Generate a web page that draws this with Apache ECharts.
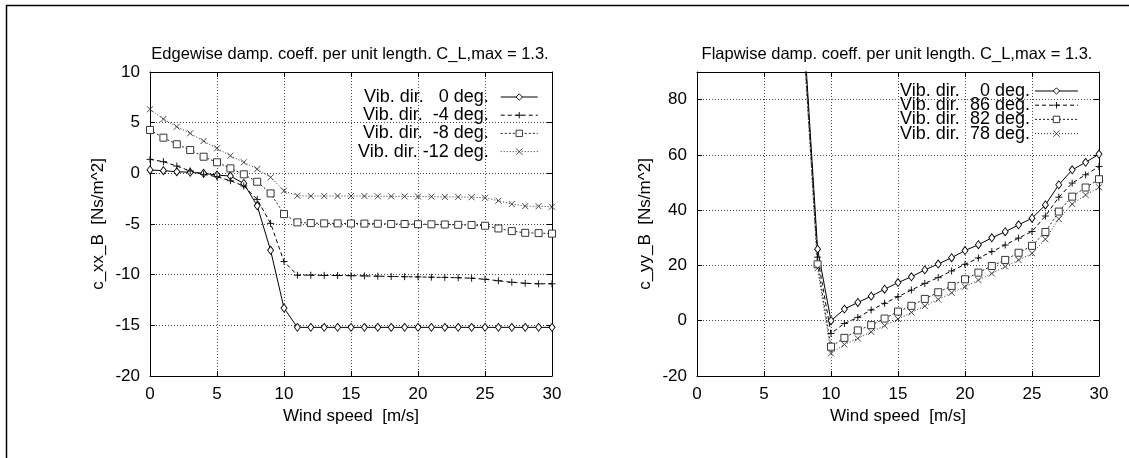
<!DOCTYPE html>
<html>
<head>
<meta charset="utf-8">
<script src="https://cdn.jsdelivr.net/npm/echarts@6/dist/echarts.min.js"></script>
<style>
  html, body { margin: 0; padding: 0; background: #fff; }
  #chart { width: 1129px; height: 458px; }
</style>
</head>
<body>
<div id="chart"></div>
<script>
// Wind speeds [m/s]
const windLeft = [0,1,2,3,4,5,6,7,8,9,10,11,12,13,14,15,16,17,18,19,20,21,22,23,24,25,26,27,28,29,30];
const windRight = [8,9,10,11,12,13,14,15,16,17,18,19,20,21,22,23,24,25,26,27,28,29,30];

// Edgewise damping c_xx_B [Ns/m^2]
const edge0 = [0.33,0.26,0.16,0.1,0,-0.17,-0.27,-1.0,-3.2,-7.6,-13.3,-15.2,-15.2,-15.2,-15.2,-15.2,-15.2,-15.2,-15.2,-15.2,-15.2,-15.2,-15.2,-15.2,-15.2,-15.2,-15.2,-15.2,-15.2,-15.2,-15.2];
const edgeM4 = [1.38,1.15,0.72,0.23,-0.1,-0.33,-0.73,-1.25,-2.57,-4.94,-8.7,-10.05,-10.05,-10.07,-10.08,-10.1,-10.12,-10.15,-10.18,-10.2,-10.22,-10.25,-10.27,-10.3,-10.35,-10.45,-10.6,-10.75,-10.85,-10.9,-10.9];
const edgeM8 = [4.28,3.52,2.87,2.3,1.64,1.09,0.49,-0.1,-0.83,-1.98,-4.02,-4.84,-4.91,-4.94,-4.94,-4.95,-4.96,-4.97,-5.0,-5.0,-5.02,-5.03,-5.05,-5.08,-5.1,-5.17,-5.44,-5.7,-5.87,-5.9,-5.95];
const edgeM12 = [6.32,5.36,4.6,3.95,3.19,2.47,1.74,1.09,0.42,-0.4,-1.72,-2.21,-2.24,-2.24,-2.24,-2.24,-2.25,-2.27,-2.27,-2.28,-2.3,-2.3,-2.33,-2.33,-2.36,-2.41,-2.7,-3.03,-3.23,-3.25,-3.3];

// Flapwise damping c_yy_B [Ns/m^2]
const flap0 = [103,25.9,0,4.2,6.6,8.9,11.4,13.8,15.9,18.4,20.5,22.8,25.4,27.5,30,32.2,34.7,37.1,41.9,49.2,54.6,57.3,60.3];
const flap86 = [100,23,-4.6,-1.0,1.2,3.9,6.3,8.7,11.1,13.5,15.6,18,20.4,22.7,25,27.4,29.9,32.3,37.9,44.7,49.8,52.8,55.8];
const flap82 = [98,20.4,-9.4,-6.2,-3.5,-1.6,0.8,3.3,5.4,7.9,10.3,12.6,15,17.4,19.8,22,24.6,27.1,32.1,39.5,44.9,48.2,51.2];
const flap78 = [97,19,-11.8,-8.6,-6.4,-4.0,-1.8,0.6,3.0,5.3,7.7,10.1,12.3,14.7,17.1,19.6,22,24.4,29.5,36.8,42.2,45.5,48.3];

const leftNames = ['Vib. dir.   0 deg.', 'Vib. dir.  -4 deg.', 'Vib. dir.  -8 deg.', 'Vib. dir. -12 deg.'];
const rightNames = ['Vib. dir.  0 deg.', 'Vib. dir. 86 deg.', 'Vib. dir. 82 deg.', 'Vib. dir. 78 deg.'];

const xTicks = { min: 0, max: 30, interval: 5 };
const leftY = { min: -20, max: 10, interval: 5 };
const rightY = { min: -20, max: 90, interval: 20 };

const FONT = 'Liberation Sans, Arial, Helvetica, sans-serif';

const PLUS = 'path://M4,0L4,8M0,4L8,4';
const CROSS = 'path://M0,0L8,8M8,0L0,8';

// Line / marker styles shared by both panels
const styles = [
  { symbol: 'diamond', symbolSize: [6, 8], fill: '#fff', color: '#000', type: 'solid' },
  { symbol: PLUS, symbolSize: 7, fill: '#000', color: '#000', type: [4, 3] },
  { symbol: 'rect', symbolSize: 7, fill: '#fff', color: '#222', type: [2, 2] },
  { symbol: CROSS, symbolSize: 6, fill: '#333', color: '#333', type: [1, 2] }
];

function pairs(xs, ys) { return xs.map((x, i) => [x, ys[i]]); }

function makeSeries(name, xs, ys, st, xi, yi) {
  return {
    name: name,
    type: 'line',
    xAxisIndex: xi,
    yAxisIndex: yi,
    data: pairs(xs, ys),
    symbol: st.symbol,
    symbolSize: st.symbolSize,
    showAllSymbol: true,
    clip: true,
    animation: false,
    lineStyle: { color: st.color, width: 1, type: st.type },
    itemStyle: { color: st.fill, borderColor: st.color, borderWidth: 0.9 },
    emphasis: { disabled: true }
  };
}

const gridL = { left: 150, top: 72, width: 402, height: 304 };
const gridR = { left: 697, top: 72, width: 402, height: 304 };

function mainX(gi, name) {
  return {
    type: 'value', gridIndex: gi, position: 'bottom',
    min: xTicks.min, max: xTicks.max, interval: xTicks.interval,
    name: name, nameLocation: 'middle', nameGap: 30,
    nameTextStyle: { fontFamily: FONT, fontSize: 17, color: '#000' },
    axisLine: { show: true, onZero: false, lineStyle: { color: '#000', width: 1 } },
    axisTick: { show: true, inside: true, length: 5, lineStyle: { color: '#000' } },
    axisLabel: { fontFamily: FONT, fontSize: 17, color: '#000', margin: 10 },
    splitLine: { show: true, lineStyle: { color: '#444', type: [1, 2], width: 1 } }
  };
}
function mirrorX(gi) {
  return {
    type: 'value', gridIndex: gi, position: 'top',
    min: xTicks.min, max: xTicks.max, interval: xTicks.interval,
    axisLine: { show: true, onZero: false, lineStyle: { color: '#000', width: 1 } },
    axisTick: { show: true, inside: true, length: 5, lineStyle: { color: '#000' } },
    axisLabel: { show: false }, splitLine: { show: false }
  };
}
function mainY(gi, rng, name) {
  return {
    type: 'value', gridIndex: gi, position: 'left',
    min: rng.min, max: rng.max, interval: rng.interval,
    name: name, nameLocation: 'middle', nameGap: 43, nameRotate: 90,
    nameTextStyle: { fontFamily: FONT, fontSize: 17, color: '#000' },
    axisLine: { show: true, onZero: false, lineStyle: { color: '#000', width: 1 } },
    axisTick: { show: true, inside: true, length: 5, lineStyle: { color: '#000' } },
    axisLabel: { fontFamily: FONT, fontSize: 17, color: '#000', margin: 10, showMaxLabel: rng.max % rng.interval === 0 },
    splitLine: { show: true, lineStyle: { color: '#444', type: [1, 2], width: 1 } }
  };
}
function mirrorY(gi, rng) {
  return {
    type: 'value', gridIndex: gi, position: 'right',
    min: rng.min, max: rng.max, interval: rng.interval,
    axisLine: { show: true, onZero: false, lineStyle: { color: '#000', width: 1 } },
    axisTick: { show: true, inside: true, length: 5, lineStyle: { color: '#000' } },
    axisLabel: { show: false }, splitLine: { show: false }
  };
}

const series = [];
[edge0, edgeM4, edgeM8, edgeM12].forEach((ys, i) => series.push(makeSeries(leftNames[i], windLeft, ys, styles[i], 0, 0)));
[flap0, flap86, flap82, flap78].forEach((ys, i) => series.push(makeSeries(rightNames[i], windRight, ys, styles[i], 2, 2)));

const legendCommon = {
  orient: 'vertical', align: 'right', padding: 0, itemHeight: 8, selectedMode: false,
  lineStyle: { width: 1 },
  itemStyle: { borderWidth: 0.9 }
};

const chart = echarts.init(document.getElementById('chart'), null, { renderer: 'canvas' });
chart.setOption({
  animation: false,
  backgroundColor: '#fff',
  title: [
    { text: 'Edgewise damp. coeff. per unit length. C_L,max = 1.3.', left: 345, top: 41, textAlign: 'center',
      textStyle: { fontFamily: FONT, fontSize: 16.5, fontWeight: 'normal', color: '#000' } },
    { text: 'Flapwise damp. coeff. per unit length. C_L,max = 1.3.', left: 892, top: 41, textAlign: 'center',
      textStyle: { fontFamily: FONT, fontSize: 16.5, fontWeight: 'normal', color: '#000' } }
  ],
  grid: [
    Object.assign({ show: false }, gridL),
    Object.assign({ show: false }, gridR)
  ],
  legend: [
    Object.assign({}, legendCommon, {
      data: leftNames, left: 358, top: 88,
      itemWidth: 37, itemGap: 0.2,
      formatter: name => '{t|' + name + '}{g|}',
      textStyle: {
        fontFamily: FONT, fontSize: 18, color: '#000',
        rich: { t: { fontFamily: FONT, fontSize: 18, width: 133, align: 'right' }, g: { width: 7 } }
      }
    }),
    Object.assign({}, legendCommon, {
      data: rightNames, left: 900, top: 82,
      itemWidth: 43, itemGap: -3.8,
      formatter: name => '{a|Vib. dir.}{b|' + name.replace('Vib. dir.', '').trim() + '}',
      textStyle: {
        fontFamily: FONT, fontSize: 18, color: '#000',
        rich: {
          a: { fontFamily: FONT, fontSize: 18, width: 62, align: 'left' },
          b: { fontFamily: FONT, fontSize: 18, width: 68, align: 'right' }
        }
      }
    })
  ],
  xAxis: [mainX(0, 'Wind speed  [m/s]'), mirrorX(0), mainX(1, 'Wind speed  [m/s]'), mirrorX(1)],
  yAxis: [mainY(0, leftY, 'c_xx_B  [Ns/m^2]'), mirrorY(0, leftY), mainY(1, rightY, 'c_yy_B  [Ns/m^2]'), mirrorY(1, rightY)],
  series: series,
  graphic: [
    { type: 'rect', silent: true, z: 100,
      shape: { x: 6.5, y: 5.5, width: 1140, height: 470 },
      style: { fill: 'none', stroke: '#000', lineWidth: 1.5 } }
  ]
});
</script>
</body>
</html>
